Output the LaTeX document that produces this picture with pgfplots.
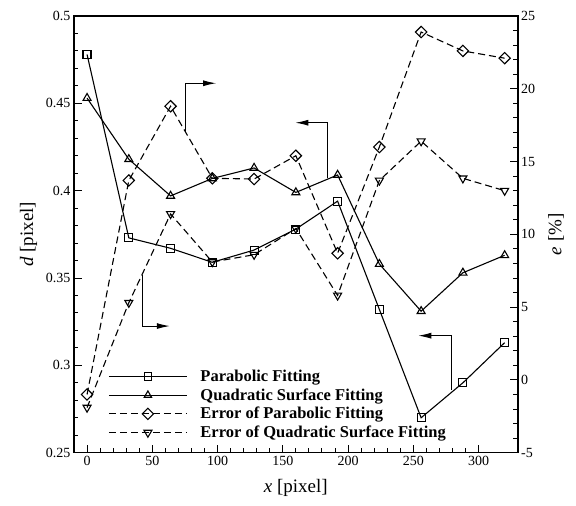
\documentclass[border=0pt]{standalone}
\usepackage{fontspec}
\setmainfont{Liberation Serif}
\usepackage{pgfplots}
\pgfplotsset{compat=1.18}
\usetikzlibrary{arrows.meta}

\pgfplotstableread{
x    pf     qs     epf    eqs
0    0.478  0.453  -1.0   -1.9
32   0.373  0.418  13.7   5.3
64   0.367  0.397  18.8   11.4
96   0.359  0.407  13.85  8.1
128  0.366  0.413  13.8   8.6
160  0.378  0.399  15.4   10.4
192  0.394  0.409  8.7    5.8
224  0.332  0.358  16.0   13.7
256  0.270  0.331  23.9   16.4
288  0.290  0.353  22.6   13.85
320  0.313  0.363  22.1   13.0
}\datatable

\begin{document}
\begin{tikzpicture}
\pgfplotsset{
  base/.style={
    scale only axis, width=443.7pt, height=436.7pt,
    xmin=-10, xmax=330,
    tick align=inside,
    major tick length=8pt, minor tick length=4.5pt,
    every tick/.style={black, line width=1pt},
    tick label style={font=\fontsize{14}{16}\selectfont},
    label style={font=\fontsize{19}{22}\selectfont},
    axis line style={line width=1.6pt},
    /pgf/number format/assume math mode=true,
  },
  fit/.style={black, line width=1.1pt, mark options={solid, fill=white, line width=1.1pt}},
  err/.style={black, line width=1.1pt, dash pattern=on 7pt off 4pt},
  diam/.style={mark=square, mark options={solid, fill=white, line width=1.1pt, rotate=45}},
  tdown/.style={mark=triangle, mark options={solid, fill=white, line width=1.1pt, rotate=180}},
}
\begin{axis}[base, name=ax,
  ymin=0.25, ymax=0.5,
  ytick={0.25,0.3,0.35,0.4,0.45,0.5},
  xtick={0,50,100,150,200,250,300},
  minor x tick num=4, minor y tick num=4,
  xtick pos=bottom, ytick pos=left,
  xlabel={\textit{x} [pixel]}, ylabel={\textit{d} [pixel]},
  xlabel style={yshift=-7pt},
  ylabel style={yshift=2pt},
  clip=false,
]
\addplot[fit, mark=square, mark size=4pt] table[x=x, y=pf] {\datatable};
\addplot[fit, mark=triangle, mark size=4.6pt] table[x=x, y=qs] {\datatable};
\draw[line width=1pt, -{Latex[length=13pt,width=6pt]}] (axis cs:75.5,0.4338) |- (axis cs:98.9,0.4615);
\draw[line width=1pt, -{Latex[length=13pt,width=6pt]}] (axis cs:184.3,0.407) |- (axis cs:159.6,0.4389);
\draw[line width=1pt, -{Latex[length=13pt,width=6pt]}] (axis cs:42.3,0.3517) |- (axis cs:63.4,0.3225);
\draw[line width=1pt, -{Latex[length=13pt,width=6pt]}] (axis cs:279,0.2859) |- (axis cs:253.8,0.317);
\end{axis}
\begin{axis}[base,
  ymin=-5, ymax=25,
  ytick={-5,0,5,10,15,20,25},
  minor y tick num=4,
  hide x axis,
  ytick pos=right, yticklabel pos=right,
  ylabel={\textit{e} [\%]},
  ylabel style={yshift=-6pt},
  legend style={at={(axis description cs:0.077,0.026)}, anchor=south west,
    draw=none, fill=none, inner sep=0pt, row sep=1.6pt, column sep=11pt,
    font=\fontsize{16.5}{18}\selectfont\bfseries},
  legend cell align=left,
  legend image code/.code={
    \draw[mark repeat=2, mark phase=2, #1] plot coordinates {(0pt,0pt) (39pt,0pt) (78pt,0pt)};},
]
\addlegendimage{fit, mark=square, mark size=3.6pt}
\addlegendentry{Parabolic Fitting}
\addlegendimage{fit, mark=triangle, mark size=4.2pt}
\addlegendentry{Quadratic Surface Fitting}
\addplot[err, diam, mark size=4pt] table[x=x, y=epf] {\datatable};
\addlegendentry{Error of Parabolic Fitting}
\addplot[err, tdown, mark size=4.6pt] table[x=x, y=eqs] {\datatable};
\addlegendentry{Error of Quadratic Surface Fitting}
\end{axis}
\path ([shift={(-74pt,-53.3pt)}]ax.south west) rectangle ([shift={(58.3pt,16pt)}]ax.north east);
\end{tikzpicture}
\end{document}
